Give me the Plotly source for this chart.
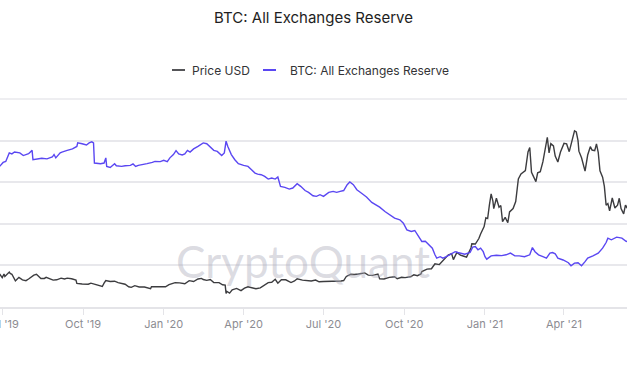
import plotly.graph_objects as go

# ---------------- data ----------------
price_dates = [
    "2019-06-28","2019-06-30","2019-07-01","2019-07-03","2019-07-04","2019-07-09","2019-07-10","2019-07-12",
    "2019-07-14","2019-07-16","2019-07-17","2019-07-20","2019-07-24","2019-07-28","2019-07-31","2019-08-03",
    "2019-08-06","2019-08-09","2019-08-14","2019-08-18","2019-08-20","2019-08-28","2019-09-01","2019-09-06",
    "2019-09-10","2019-09-13","2019-09-18","2019-09-23","2019-09-24","2019-09-30","2019-10-07","2019-10-10",
    "2019-10-15","2019-10-23","2019-10-25","2019-10-26","2019-10-27","2019-11-01","2019-11-06","2019-11-10",
    "2019-11-14","2019-11-18","2019-11-22","2019-11-25","2019-11-29","2019-12-04","2019-12-10","2019-12-17",
    "2019-12-18","2019-12-24","2019-12-31","2020-01-03","2020-01-07","2020-01-14","2020-01-19","2020-01-25",
    "2020-01-30","2020-02-04","2020-02-09","2020-02-13","2020-02-15","2020-02-19","2020-02-23","2020-02-27",
    "2020-03-04","2020-03-08","2020-03-11","2020-03-12","2020-03-13","2020-03-16","2020-03-19","2020-03-24",
    "2020-03-29","2020-04-02","2020-04-06","2020-04-10","2020-04-15","2020-04-20","2020-04-23","2020-04-29",
    "2020-05-03","2020-05-07","2020-05-10","2020-05-14","2020-05-19","2020-05-25","2020-05-29","2020-06-01",
    "2020-06-07","2020-06-12","2020-06-17","2020-06-22","2020-06-26","2020-07-01","2020-07-07","2020-07-12",
    "2020-07-17","2020-07-21","2020-07-24","2020-07-27","2020-08-01","2020-08-05","2020-08-10","2020-08-17",
    "2020-08-21","2020-08-26","2020-09-01","2020-09-03","2020-09-08","2020-09-14","2020-09-20","2020-09-23",
    "2020-09-28","2020-10-02","2020-10-08","2020-10-12","2020-10-16","2020-10-20","2020-10-21","2020-10-27",
    "2020-11-01","2020-11-05","2020-11-10","2020-11-13","2020-11-17","2020-11-20","2020-11-24","2020-11-26",
    "2020-11-30","2020-12-04","2020-12-08","2020-12-11","2020-12-16","2020-12-17","2020-12-21","2020-12-25",
    "2020-12-27","2020-12-31","2021-01-02","2021-01-04","2021-01-06","2021-01-08","2021-01-10","2021-01-11",
    "2021-01-14","2021-01-17","2021-01-19","2021-01-21","2021-01-24","2021-01-27","2021-01-29","2021-02-02",
    "2021-02-05","2021-02-08","2021-02-11","2021-02-14","2021-02-16","2021-02-19","2021-02-21","2021-02-23",
    "2021-02-25","2021-02-28","2021-03-02","2021-03-05","2021-03-08","2021-03-10","2021-03-13","2021-03-15",
    "2021-03-17","2021-03-20","2021-03-22","2021-03-25","2021-03-28","2021-04-01","2021-04-04","2021-04-07",
    "2021-04-10","2021-04-13","2021-04-15","2021-04-17","2021-04-18","2021-04-21","2021-04-25","2021-04-28",
    "2021-05-01","2021-05-03","2021-05-06","2021-05-08","2021-05-10","2021-05-12","2021-05-15","2021-05-17",
    "2021-05-19","2021-05-21","2021-05-23","2021-05-26","2021-05-29","2021-06-01","2021-06-03","2021-06-05",
    "2021-06-08","2021-06-10","2021-06-12","2021-06-14",
]
price_usd = [
    11900,10800,10600,11900,11000,12600,12100,11800,
    10300,9400,9700,10700,9800,9500,10100,10800,
    11500,11800,10300,10300,10700,9700,9800,10400,
    10100,10400,10200,9700,8500,8300,8200,8600,
    8200,7400,8600,9200,9550,9200,9300,8800,
    8600,8200,7300,7100,7700,7200,7200,6600,
    7300,7300,7200,7300,8100,8800,8700,8400,
    9500,9200,10100,10300,9900,9600,9900,8800,
    8800,8000,7900,4900,5600,5000,6200,6700,
    5900,6800,7300,6900,6600,6900,7500,8800,
    8900,10000,8600,9800,9800,8800,9400,10200,
    9700,9500,9400,9700,9100,9200,9250,9300,
    9150,9400,9550,11000,11800,11700,11900,12300,
    11500,11400,11900,10200,10100,10700,10900,10200,
    10700,10600,10900,11600,11300,11900,12800,13650,
    13800,15600,15300,16300,17700,18700,19200,17100,
    19700,18700,18300,18000,21300,22800,22700,24700,
    26300,29000,32200,31900,36700,40800,38200,35500,
    39200,36000,36600,30800,32300,30400,34300,35500,
    38000,46200,48000,48700,49200,55900,57500,48600,
    47000,45200,48400,48800,52400,56000,61200,55600,
    58900,58100,54400,52300,55900,59000,58800,56000,
    59800,63500,63100,60000,56200,53800,49000,54800,
    57800,56600,56400,58800,55800,49100,46800,43500,
    36700,37300,34700,39300,35700,36700,39200,35500,
    33600,36700,35600,40500,
]

reserve_dates = [
    "2019-06-28","2019-07-02","2019-07-05","2019-07-09","2019-07-12","2019-07-15","2019-07-21","2019-07-25",
    "2019-07-31","2019-08-03","2019-08-04","2019-08-05","2019-08-09","2019-08-15","2019-08-21","2019-08-27",
    "2019-08-29","2019-08-31","2019-09-05","2019-09-07","2019-09-13","2019-09-19","2019-09-24","2019-09-25",
    "2019-09-30","2019-10-05","2019-10-08","2019-10-11","2019-10-13","2019-10-14","2019-10-21","2019-10-25",
    "2019-10-27","2019-10-28","2019-11-01","2019-11-04","2019-11-06","2019-11-08","2019-11-14","2019-11-18",
    "2019-11-24","2019-11-27","2019-11-30","2019-12-03","2019-12-09","2019-12-13","2019-12-19","2019-12-22",
    "2019-12-28","2020-01-01","2020-01-05","2020-01-08","2020-01-12","2020-01-15","2020-01-18","2020-01-22",
    "2020-01-25","2020-01-28","2020-01-31","2020-02-04","2020-02-09","2020-02-15","2020-02-19","2020-02-23",
    "2020-02-27","2020-03-02","2020-03-07","2020-03-10","2020-03-12","2020-03-14","2020-03-18","2020-03-22",
    "2020-03-26","2020-04-01","2020-04-06","2020-04-10","2020-04-14","2020-04-17","2020-04-21","2020-04-25",
    "2020-04-29","2020-05-03","2020-05-07","2020-05-10","2020-05-13","2020-05-18","2020-05-23","2020-05-27",
    "2020-06-01","2020-06-05","2020-06-10","2020-06-14","2020-06-19","2020-06-23","2020-06-27","2020-07-01",
    "2020-07-07","2020-07-12","2020-07-16","2020-07-20","2020-07-24","2020-07-28","2020-07-31","2020-08-04",
    "2020-08-08","2020-08-13","2020-08-19","2020-08-25","2020-08-29","2020-09-03","2020-09-09","2020-09-15",
    "2020-09-20","2020-09-26","2020-09-30","2020-10-04","2020-10-09","2020-10-13","2020-10-18","2020-10-21",
    "2020-10-25","2020-10-31","2020-11-02","2020-11-05","2020-11-07","2020-11-11","2020-11-14","2020-11-18",
    "2020-11-24","2020-11-28","2020-12-01","2020-12-05","2020-12-09","2020-12-15","2020-12-18","2020-12-21",
    "2020-12-24","2020-12-27","2020-12-30","2021-01-01","2021-01-03","2021-01-08","2021-01-14","2021-01-20",
    "2021-01-25","2021-01-30","2021-02-04","2021-02-09","2021-02-15","2021-02-21","2021-02-24","2021-02-27",
    "2021-03-03","2021-03-08","2021-03-12","2021-03-16","2021-03-19","2021-03-22","2021-03-25","2021-03-31",
    "2021-04-06","2021-04-09","2021-04-13","2021-04-17","2021-04-21","2021-04-25","2021-04-28","2021-05-04",
    "2021-05-10","2021-05-15","2021-05-19","2021-05-21","2021-05-25","2021-05-31","2021-06-06","2021-06-11",
    "2021-06-14",
]
reserve_btc_m = [
    2.676,2.695,2.700,2.741,2.736,2.745,2.741,2.728,
    2.737,2.748,2.753,2.708,2.712,2.715,2.712,2.721,
    2.733,2.717,2.741,2.745,2.753,2.760,2.772,2.789,
    2.785,2.779,2.789,2.794,2.789,2.692,2.689,2.692,
    2.717,2.676,2.671,2.684,2.689,2.679,2.676,2.679,
    2.681,2.688,2.676,2.681,2.684,2.689,2.695,2.700,
    2.699,2.705,2.699,2.717,2.733,2.752,2.736,2.731,
    2.736,2.753,2.745,2.760,2.772,2.789,2.785,2.770,
    2.753,2.748,2.728,2.741,2.797,2.772,2.733,2.708,
    2.689,2.681,2.676,2.660,2.644,2.639,2.636,2.628,
    2.615,2.620,2.615,2.625,2.580,2.575,2.567,2.572,
    2.593,2.580,2.560,2.551,2.535,2.532,2.540,2.532,
    2.551,2.556,2.551,2.556,2.560,2.588,2.601,2.588,
    2.564,2.548,2.529,2.503,2.492,2.480,2.459,2.443,
    2.427,2.419,2.403,2.371,2.363,2.368,2.331,2.315,
    2.316,2.294,2.283,2.251,2.235,2.242,2.235,2.242,
    2.259,2.266,2.262,2.259,2.254,2.262,2.288,2.291,
    2.275,2.283,2.266,2.242,2.230,2.246,2.249,2.247,
    2.251,2.259,2.246,2.246,2.242,2.251,2.286,2.266,
    2.251,2.242,2.235,2.259,2.262,2.256,2.235,2.226,
    2.213,2.198,2.211,2.213,2.198,2.218,2.235,2.246,
    2.259,2.283,2.310,2.331,2.323,2.336,2.331,2.315,
    2.318,
]
reserve_btc = [v * 1e6 for v in reserve_btc_m]

series_names = ["Price USD", "BTC: All Exchanges Reserve"]
series_colors = ["#3c3c3f", "#5a47f2"]
title_text = "BTC: All Exchanges Reserve"
watermark_text = "CryptoQuant"

# ---------------- figure ----------------
W, H = 627, 376
PLOT_TOP, PLOT_BOTTOM = 99, 307
FONT = "Inter, Roboto, 'Noto Sans', sans-serif"
GRID = "#e8e8ec"

def py(ypix):
    return (PLOT_BOTTOM - ypix) / (PLOT_BOTTOM - PLOT_TOP)

fig = go.Figure()
fig.add_trace(go.Scatter(x=price_dates, y=price_usd, name=series_names[0], mode="lines",
                         line=dict(color=series_colors[0], width=1.4), yaxis="y"))
fig.add_trace(go.Scatter(x=reserve_dates, y=reserve_btc, name=series_names[1], mode="lines",
                         line=dict(color=series_colors[1], width=1.4), yaxis="y2"))

# top border grid line of the plot area
shapes = [dict(type="line", xref="paper", yref="paper", x0=0, x1=1, y0=1, y1=1,
               line=dict(color=GRID, width=1.5), layer="below")]
annotations = []

# manual legend (short dash markers like the original)
legend_items = [
    (172, 185, 190, series_names[0], "#555558"),
    (263, 276, 288, series_names[1], series_colors[1]),
]
for x0, x1, xt, label, col in legend_items:
    shapes.append(dict(type="line", xref="paper", yref="paper", x0=x0 / W, x1=x1 / W,
                       y0=py(70), y1=py(70), line=dict(color=col, width=2)))
    annotations.append(dict(text=label, xref="paper", yref="paper", x=xt / W, y=py(70),
                            xanchor="left", yanchor="middle", showarrow=False,
                            font=dict(family=FONT, size=12, color="#333336")))

annotations.append(dict(text=watermark_text, xref="paper", yref="paper",
                        x=303 / W, y=py(261), xanchor="center", yanchor="middle", showarrow=False,
                        font=dict(family="Lato, Inter, sans-serif", size=44, color="rgba(170,170,185,0.42)")))

fig.update_layout(
    width=W, height=H,
    margin=dict(l=0, r=0, t=PLOT_TOP, b=H - PLOT_BOTTOM, pad=0, autoexpand=False),
    paper_bgcolor="white", plot_bgcolor="white",
    showlegend=False,
    title=dict(text=title_text, x=0.5, xanchor="center", y=1 - 18 / H, yanchor="middle",
               font=dict(family=FONT, size=15, color="#1e1e22")),
    font=dict(family=FONT),
    xaxis=dict(type="date", range=["2019-06-28 10:30", "2021-06-11 19:00"], automargin=False,
               tick0="2019-07-01", dtick="M3", tickformat="%b '%y", ticklabeloverflow="allow",
               showgrid=False, showline=True, linecolor="#e4e4e8", linewidth=1.5,
               ticks="outside", ticklen=6, tickcolor="#e4e4e8", tickwidth=1,
               tickfont=dict(family=FONT, size=11, color="#8c8c92"), zeroline=False),
    yaxis=dict(range=[0, 75000], dtick=15000, showgrid=True, gridcolor=GRID, gridwidth=1.5,
               automargin=False, showticklabels=False, zeroline=False, showline=False),
    yaxis2=dict(range=[2.0e6, 3.0e6], overlaying="y", side="right", showgrid=False, automargin=False,
                showticklabels=False, zeroline=False, showline=False),
    shapes=shapes,
    annotations=annotations,
)

fig.write_html("out.html", config={"displayModeBar": False},
               post_script="document.body.style.margin='0';")
